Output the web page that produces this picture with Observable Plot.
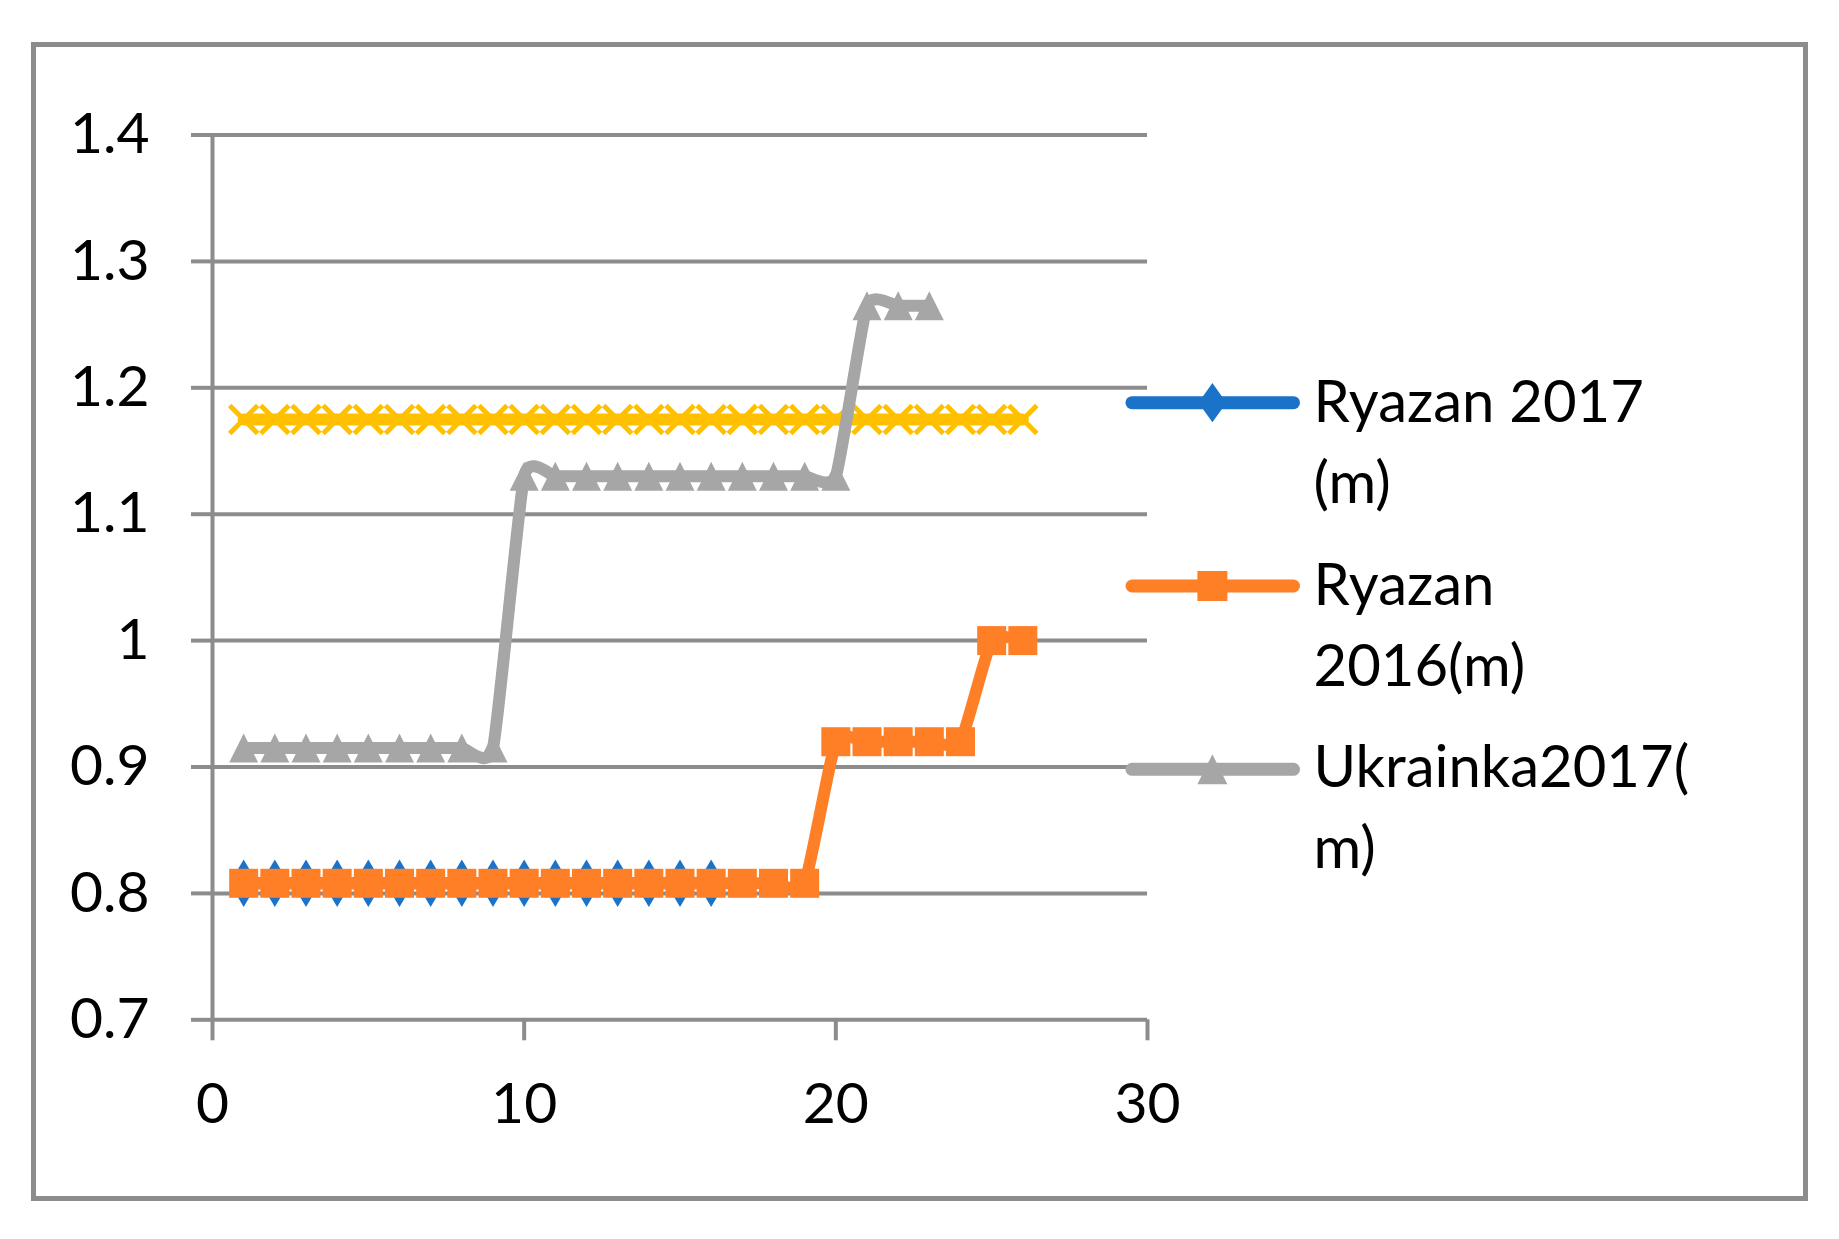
<!DOCTYPE html>
<html>
<head>
<meta charset="utf-8">
<script src="https://cdn.jsdelivr.net/npm/d3@7"></script>
<script src="https://cdn.jsdelivr.net/npm/@observablehq/plot@0.6"></script>
<style>
  html, body { margin: 0; padding: 0; background: #ffffff; }
  #wrap { position: relative; width: 1839px; height: 1239px; overflow: hidden; background: #fff; }
  #frame { position: absolute; left: 31px; top: 42px; width: 1777px; height: 1159px; box-sizing: border-box; border: 5px solid #8c8c8c; pointer-events: none; }
  #chart { position: absolute; left: 0; top: 0; }
  #legend { position: absolute; left: 0; top: 0; }
</style>
</head>
<body>
<div id="wrap">
  <div id="chart"></div>
  <svg id="legend" width="1839" height="1239"></svg>
  <div id="frame"></div>
</div>
<script>
// ---- data ----
const xTicks = [0, 10, 20, 30];
const yTicks = [0.7, 0.8, 0.9, 1.0, 1.1, 1.2, 1.3, 1.4];

const ryazan2017X = [1, 2, 3, 4, 5, 6, 7, 8, 9, 10, 11, 12, 13, 14, 15, 16];
const ryazan2017Y = [0.808, 0.808, 0.808, 0.808, 0.808, 0.808, 0.808, 0.808, 0.808, 0.808, 0.808, 0.808, 0.808, 0.808, 0.808, 0.808];

const ryazan2016X = [1, 2, 3, 4, 5, 6, 7, 8, 9, 10, 11, 12, 13, 14, 15, 16, 17, 18, 19, 20, 21, 22, 23, 24, 25, 26];
const ryazan2016Y = [0.808, 0.808, 0.808, 0.808, 0.808, 0.808, 0.808, 0.808, 0.808, 0.808, 0.808, 0.808, 0.808, 0.808, 0.808, 0.808, 0.808, 0.808, 0.808, 0.92, 0.92, 0.92, 0.92, 0.92, 1.0, 1.0];

const ukrainka2017X = [1, 2, 3, 4, 5, 6, 7, 8, 9, 10, 11, 12, 13, 14, 15, 16, 17, 18, 19, 20, 21, 22, 23];
const ukrainka2017Y = [0.915, 0.915, 0.915, 0.915, 0.915, 0.915, 0.915, 0.915, 0.915, 1.13, 1.13, 1.13, 1.13, 1.13, 1.13, 1.13, 1.13, 1.13, 1.13, 1.13, 1.265, 1.265, 1.265];

const series4X = [1, 2, 3, 4, 5, 6, 7, 8, 9, 10, 11, 12, 13, 14, 15, 16, 17, 18, 19, 20, 21, 22, 23, 24, 25, 26];
const series4Y = [1.175, 1.175, 1.175, 1.175, 1.175, 1.175, 1.175, 1.175, 1.175, 1.175, 1.175, 1.175, 1.175, 1.175, 1.175, 1.175, 1.175, 1.175, 1.175, 1.175, 1.175, 1.175, 1.175, 1.175, 1.175, 1.175];

const legendNames = [["Ryazan 2017", "(m)"], ["Ryazan", "2016(m)"], ["Ukrainka2017(", "m)"]];

// ---- styles ----
const C_BLUE = "#1a73c9", C_ORANGE = "#ff7f27", C_GRAY = "#a6a6a6", C_YELLOW = "#ffc000", C_GRID = "#8c8c8c";
const FONT = "Lato, 'Open Sans', sans-serif";

const zip = (xs, ys) => xs.map((x, i) => ({x, y: ys[i]}));
const dRy17 = zip(ryazan2017X, ryazan2017Y);
const dRy16 = zip(ryazan2016X, ryazan2016Y);
const dUk17 = zip(ukrainka2017X, ukrainka2017Y);
const dS4 = zip(series4X, series4Y);

// custom marker shapes (sized from r)
const rad = size => Math.sqrt(size / Math.PI);
const symDiamond = {draw(c, size) { const s = rad(size); c.moveTo(0, -1.7 * s); c.lineTo(s, 0); c.lineTo(0, 1.7 * s); c.lineTo(-s, 0); c.closePath(); }};
const symDiamondLeg = {draw(c, size) { const s = rad(size); c.moveTo(0, -1.4 * s); c.lineTo(s, 0); c.lineTo(0, 1.4 * s); c.lineTo(-s, 0); c.closePath(); }};
const symSquare = {draw(c, size) { const s = rad(size); c.moveTo(-s, -s); c.lineTo(s, -s); c.lineTo(s, s); c.lineTo(-s, s); c.closePath(); }};
const symTriangle = {draw(c, size) { const s = rad(size); c.moveTo(0, -s); c.lineTo(s, s); c.lineTo(-s, s); c.closePath(); }};
const symTimes = {draw(c, size) { const s = rad(size); c.moveTo(-s, -s); c.lineTo(s, s); c.moveTo(s, -s); c.lineTo(-s, s); }};

const lineOpts = {x: "x", y: "y", strokeWidth: 12, curve: "cardinal", tension: 0.5, strokeLinejoin: "round", strokeLinecap: "round"};

const chart = Plot.plot({
  width: 1839,
  height: 1239,
  marginLeft: 212,
  marginRight: 692,
  marginTop: 134.5,
  marginBottom: 219.7,
  style: {fontFamily: FONT, fontSize: "57px", color: "#000", background: "transparent", overflow: "visible"},
  x: {domain: [0, 30]},
  y: {domain: [0.7, 1.4]},
  marks: [
    Plot.ruleY(yTicks, {x1: 0, x2: 30, stroke: C_GRID, strokeWidth: 4}),
    Plot.ruleX([0], {y1: 0.7, y2: 1.4, stroke: C_GRID, strokeWidth: 4}),
    Plot.axisY(yTicks, {tickSize: 21, tickPadding: 42, tickFormat: d => String(d), stroke: C_GRID, strokeWidth: 4, label: null, fill: "#000"}),
    Plot.axisX(xTicks, {tickSize: 21, tickPadding: 42, tickFormat: d => String(d), stroke: C_GRID, strokeWidth: 4, label: null, fill: "#000"}),
    Plot.line(dRy17, {...lineOpts, stroke: C_BLUE}),
    Plot.dot(dRy17, {x: "x", y: "y", symbol: symDiamond, r: 14, fill: C_BLUE, stroke: "none"}),
    Plot.line(dRy16, {...lineOpts, stroke: C_ORANGE}),
    Plot.dot(dRy16, {x: "x", y: "y", symbol: symSquare, r: 14.5, fill: C_ORANGE, stroke: "none"}),
    Plot.line(dS4, {...lineOpts, stroke: C_YELLOW}),
    Plot.dot(dS4, {x: "x", y: "y", symbol: symTimes, r: 14, fill: "none", stroke: C_YELLOW, strokeWidth: 5}),
    Plot.line(dUk17, {...lineOpts, stroke: C_GRAY}),
    Plot.dot(dUk17, {x: "x", y: "y", symbol: symTriangle, r: 14.5, fill: C_GRAY, stroke: "none"})
  ]
});
document.getElementById("chart").appendChild(chart);

// ---- legend (outside the plot) ----
const legend = d3.select("#legend");
const entries = [
  {names: legendNames[0], color: C_BLUE, sym: symDiamondLeg, r: 14, lineY: 402.7, baseY: 422.3},
  {names: legendNames[1], color: C_ORANGE, sym: symSquare, r: 15, lineY: 586, baseY: 605},
  {names: legendNames[2], color: C_GRAY, sym: symTriangle, r: 15, lineY: 769.3, baseY: 787.3}
];
for (const e of entries) {
  const g = legend.append("g");
  g.append("line").attr("x1", 1132).attr("x2", 1293.5).attr("y1", e.lineY).attr("y2", e.lineY)
    .attr("stroke", e.color).attr("stroke-width", 13).attr("stroke-linecap", "round");
  g.append("path").attr("transform", `translate(1212.4,${e.lineY})`)
    .attr("d", d3.symbol(e.sym, e.r * e.r * Math.PI)()).attr("fill", e.color);
  const t = g.append("text").attr("x", 1313.5).attr("y", e.baseY)
    .attr("font-family", FONT).attr("font-size", 58).attr("fill", "#000");
  e.names.forEach((n, i) => t.append("tspan").attr("x", 1313.5).attr("dy", i === 0 ? 0 : 80.7).text(n));
}
</script>
</body>
</html>
